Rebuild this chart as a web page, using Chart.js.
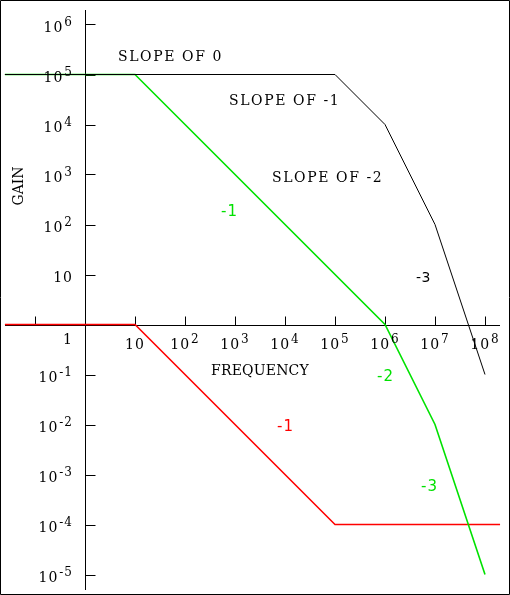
<!DOCTYPE html>
<html lang="en">
<head>
<meta charset="UTF-8">
<title>Gain vs Frequency</title>
<script src="https://cdn.jsdelivr.net/npm/chart.js@4.4.0/dist/chart.umd.min.js"></script>
<style>
  body { margin: 0; background: #fff; }
  #wrap { width: 510px; height: 595px; position: relative; }
</style>
</head>
<body>
<div id="wrap"><canvas id="gainChart"></canvas></div>
<script>
// Bode-style asymptotes (frequency, gain)
const blackFreq = [0.025, 1e5, 1e6, 1e7, 1e8];
const blackGain = [1e5, 1e5, 1e4, 1e2, 1e-1];
const greenFreq = [0.025, 10, 1e6, 1e7, 1e8];
const greenGain = [1e5, 1e5, 1, 1e-2, 1e-5];
const redFreq = [0.025, 10, 1e5, 2e8];
const redGain = [1, 1, 1e-4, 1e-4];

// tick values and labels (base + superscript)
const yTicks = [1e6, 1e5, 1e4, 1e3, 1e2, 10, 1, 1e-1, 1e-2, 1e-3, 1e-4, 1e-5];
const yTickBase = ['10', '10', '10', '10', '10', '10', '1', '10', '10', '10', '10', '10'];
const yTickSup = ['6', '5', '4', '3', '2', '', '', '-1', '-2', '-3', '-4', '-5'];
const xTicks = [0.1, 10, 1e2, 1e3, 1e4, 1e5, 1e6, 1e7, 1e8];
const xTickBase = ['', '10', '10', '10', '10', '10', '10', '10', '10'];
const xTickSup = ['', '', '2', '3', '4', '5', '6', '7', '8'];

const SERIF = '"DejaVu Serif", "Liberation Serif", serif';
const SANS = '"DejaVu Sans", sans-serif';

function pairs(xs, ys) {
  return xs.map((x, i) => ({x: x, y: ys[i]}));
}

function txt(ctx, s, x, y, font, color, spacing) {
  ctx.save();
  ctx.font = font;
  ctx.fillStyle = color;
  ctx.letterSpacing = (spacing || 0) + 'px';
  ctx.fillText(s, x, y);
  ctx.restore();
}

// width of base+superscript label
function labelWidth(ctx, base, sup) {
  ctx.save();
  ctx.letterSpacing = '1px';
  ctx.font = '14px ' + SERIF;
  let w = ctx.measureText(base).width;
  ctx.font = '12px ' + SERIF;
  if (sup) w += 1 + ctx.measureText(sup).width;
  ctx.restore();
  return w;
}

function drawLabel(ctx, base, sup, left, baseline) {
  ctx.save();
  ctx.letterSpacing = '1px';
  ctx.fillStyle = '#000';
  ctx.textBaseline = 'alphabetic';
  ctx.font = '14px ' + SERIF;
  ctx.fillText(base, left, baseline);
  let w = ctx.measureText(base).width;
  if (sup) {
    ctx.font = '12px ' + SERIF;
    ctx.fillText(sup, left + w + 1, baseline - 6);
  }
  ctx.restore();
}

const axesPlugin = {
  id: 'axesPlugin',
  beforeDatasetsDraw(chart) {
    const ctx = chart.ctx;
    const xs = chart.scales.x, ys = chart.scales.y;
    const ax = Math.round(xs.getPixelForValue(1)) + 0.5;
    const ay = Math.round(ys.getPixelForValue(1)) + 0.5;
    ctx.save();
    ctx.strokeStyle = '#000';
    ctx.lineWidth = 1;
    ctx.beginPath();
    // frame
    ctx.rect(0.5, 0.5, chart.width - 1, chart.height - 1);
    // y axis
    ctx.moveTo(ax, 10);
    ctx.lineTo(ax, 590);
    // x axis
    ctx.moveTo(5, ay);
    ctx.lineTo(500, ay);
    yTicks.forEach(v => {
      if (v === 1) return;
      const py = Math.round(ys.getPixelForValue(v)) + 0.5;
      ctx.moveTo(ax, py);
      ctx.lineTo(ax + 10, py);
    });
    xTicks.forEach(v => {
      const px = Math.round(xs.getPixelForValue(v)) + 0.5;
      ctx.moveTo(px, ay);
      ctx.lineTo(px, ay - 9);
    });
    ctx.stroke();
    ctx.restore();
  },
  afterDraw(chart) {
    const ctx = chart.ctx;
    const xs = chart.scales.x, ys = chart.scales.y;
    const ax = xs.getPixelForValue(1);
    const ay = ys.getPixelForValue(1);

    // y tick labels, right aligned left of the axis
    yTicks.forEach((v, i) => {
      let py = ys.getPixelForValue(v);
      if (v === 1) py += 12;
      const w = labelWidth(ctx, yTickBase[i], yTickSup[i]);
      drawLabel(ctx, yTickBase[i], yTickSup[i], ax - 12 - w, py + 7);
    });
    // x tick labels, centred under ticks
    xTicks.forEach((v, i) => {
      if (!xTickBase[i]) return;
      const px = xs.getPixelForValue(v);
      const w = labelWidth(ctx, xTickBase[i], xTickSup[i]);
      drawLabel(ctx, xTickBase[i], xTickSup[i], px - w / 2, ay + 24);
    });

    // axis titles
    txt(ctx, 'FREQUENCY', 211, 375, '14px ' + SERIF, '#000', 0.2);
    ctx.save();
    ctx.translate(23, 186);
    ctx.rotate(-Math.PI / 2);
    ctx.textAlign = 'center';
    txt(ctx, 'GAIN', 0, 0, '14px ' + SERIF, '#000', 0);
    ctx.restore();

    // annotations
    txt(ctx, 'SLOPE OF 0', 118, 61, '14px ' + SERIF, '#000', 1.6);
    txt(ctx, 'SLOPE OF -1', 229, 105, '14px ' + SERIF, '#000', 1.6);
    txt(ctx, 'SLOPE OF -2', 272, 182, '14px ' + SERIF, '#000', 1.6);
    txt(ctx, '-3', 416, 282, '14px ' + SANS, '#000', 0.5);
    txt(ctx, '-1', 221, 216, '15px ' + SANS, 'rgb(0,225,0)', 1);
    txt(ctx, '-2', 377, 381, '15px ' + SANS, 'rgb(0,225,0)', 1);
    txt(ctx, '-3', 421, 491, '15px ' + SANS, 'rgb(0,225,0)', 1);
    txt(ctx, '-1', 277, 431, '15px ' + SANS, '#ff0000', 1);
  }
};

const ctx = document.getElementById('gainChart').getContext('2d');
new Chart(ctx, {
  type: 'scatter',
  data: {
    datasets: [
      {
        label: 'open loop',
        data: pairs(blackFreq, blackGain),
        showLine: true,
        borderColor: '#000',
        borderWidth: 1,
        pointRadius: 0,
        tension: 0
      },
      {
        label: 'compensated',
        data: pairs(greenFreq, greenGain),
        showLine: true,
        borderColor: 'rgb(0,225,0)',
        borderWidth: 1.6,
        pointRadius: 0,
        tension: 0
      },
      {
        label: 'feedback',
        data: pairs(redFreq, redGain),
        showLine: true,
        borderColor: '#ff0000',
        borderWidth: 1.6,
        pointRadius: 0,
        tension: 0
      }
    ]
  },
  options: {
    responsive: true,
    maintainAspectRatio: false,
    animation: false,
    layout: { padding: 0 },
    plugins: {
      legend: { display: false },
      tooltip: { enabled: false }
    },
    scales: {
      x: {
        type: 'logarithmic',
        display: false,
        min: Math.pow(10, -1.7),
        max: Math.pow(10, 8.5)
      },
      y: {
        type: 'logarithmic',
        display: false,
        min: Math.pow(10, -5.41),
        max: Math.pow(10, 6.49)
      }
    }
  },
  plugins: [axesPlugin]
});
</script>
</body>
</html>
